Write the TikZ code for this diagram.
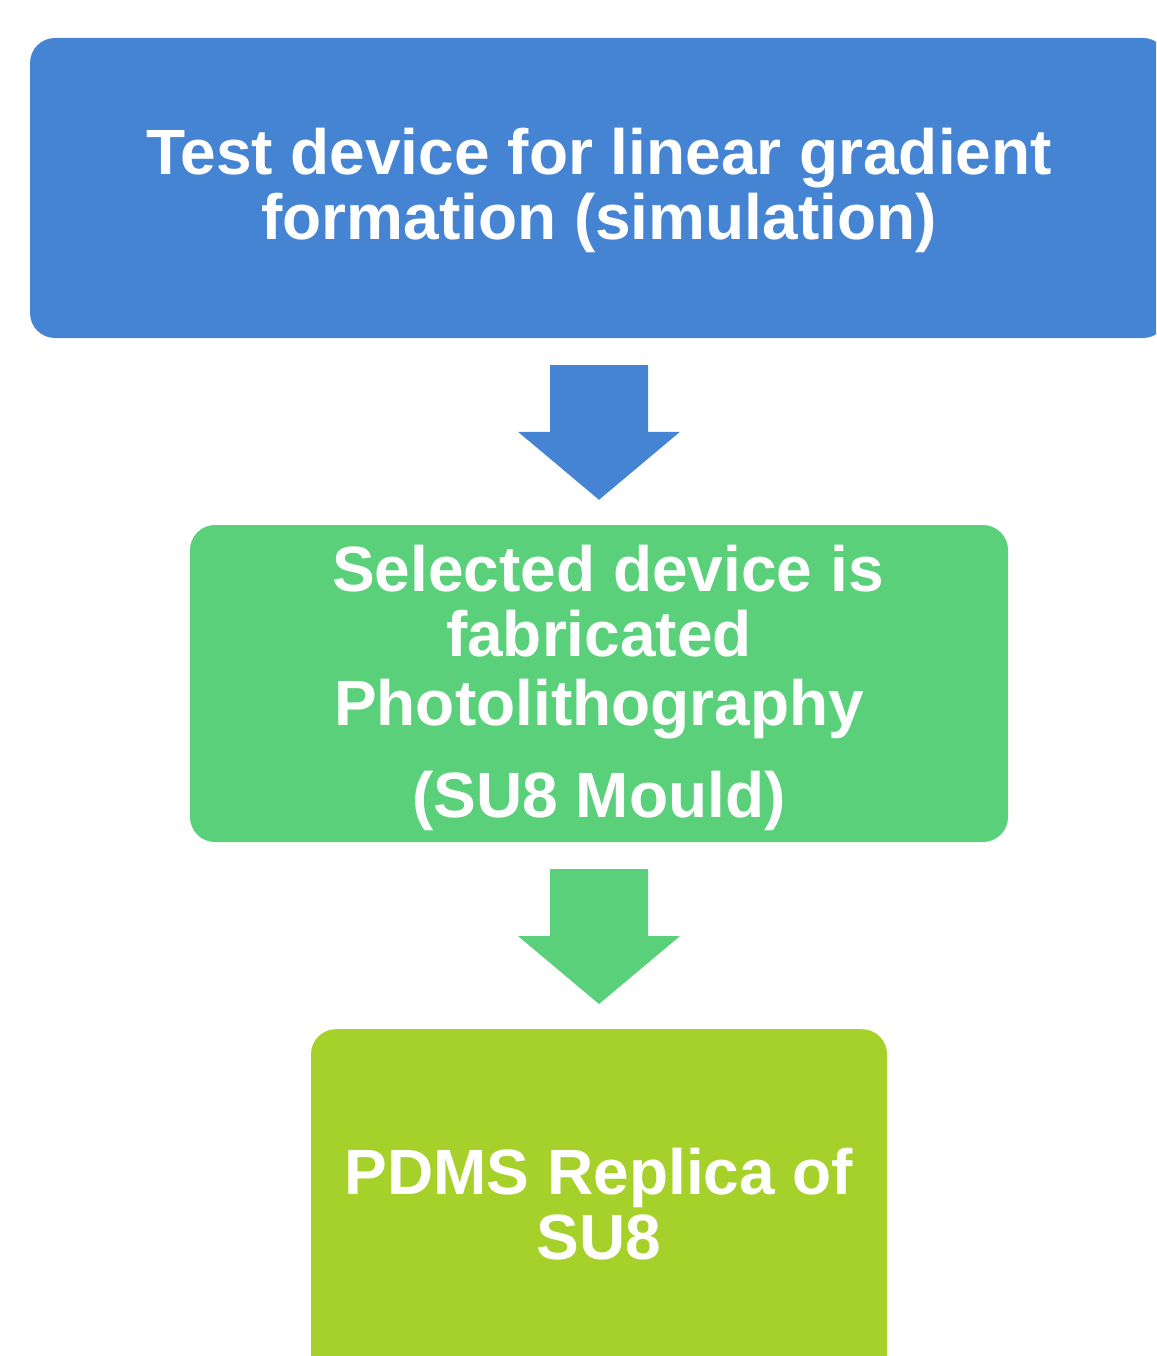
\documentclass[tikz,border=0pt]{standalone}
\usepackage{fontspec}
\setmainfont{Liberation Sans}
\usetikzlibrary{calc}
\definecolor{boxblue}{RGB}{69,132,211}
\definecolor{boxgreen}{RGB}{91,208,122}
\definecolor{boxlime}{RGB}{166,208,42}
\newcommand\blockdown[3]{%
  \fill[#1] ($(#2.south)+(-49,27)$) -- ($(#2.south)+(49,27)$)
    -- ($(#3.north)+(49,-93)$) -- ($(#3.north)+(81,-93)$)
    -- ($(#3.north)+(0,-25)$) -- ($(#3.north)+(-81,-93)$)
    -- ($(#3.north)+(-49,-93)$) -- cycle;}
\begin{document}
\begin{tikzpicture}[x=1pt,y=-1pt,
  stepbox/.style={rectangle,rounded corners=25pt,draw=none,inner sep=0pt},
  linetext/.style={text=white,font=\fontsize{64}{65}\selectfont\bfseries,
    inner sep=0pt,anchor=base}]
\useasboundingbox (0,0) rectangle (1156,1356);
\clip (0,0) rectangle (1156,1356);
\node[stepbox,fill=boxblue,minimum width=1138pt,minimum height=300pt] (b1) at (599,188) {};
\node[stepbox,fill=boxgreen,minimum width=818pt,minimum height=317pt] (b2) at (599,683.5) {};
\node[stepbox,fill=boxlime,minimum width=576pt,minimum height=400pt,anchor=north] (b3) at (599,1029) {};
\node[linetext] (t1a) at (599,175) {Test device for linear gradient};
\node[linetext] (t1b) at (599,240) {formation (simulation)};
\node[linetext] (t2a) at (608,591) {Selected device is};
\node[linetext] (t2b) at (599,656) {fabricated};
\node[linetext] (t2c) at (599,725) {Photolithography};
\node[linetext] (t2d) at (599,817) {(SU8 Mould)};
\node[linetext] (t3a) at (599,1194) {PDMS Replica of};
\node[linetext] (t3b) at (599,1259) {SU8};
\blockdown{boxblue}{b1}{b2}
\blockdown{boxgreen}{b2}{b3}
\end{tikzpicture}
\end{document}
